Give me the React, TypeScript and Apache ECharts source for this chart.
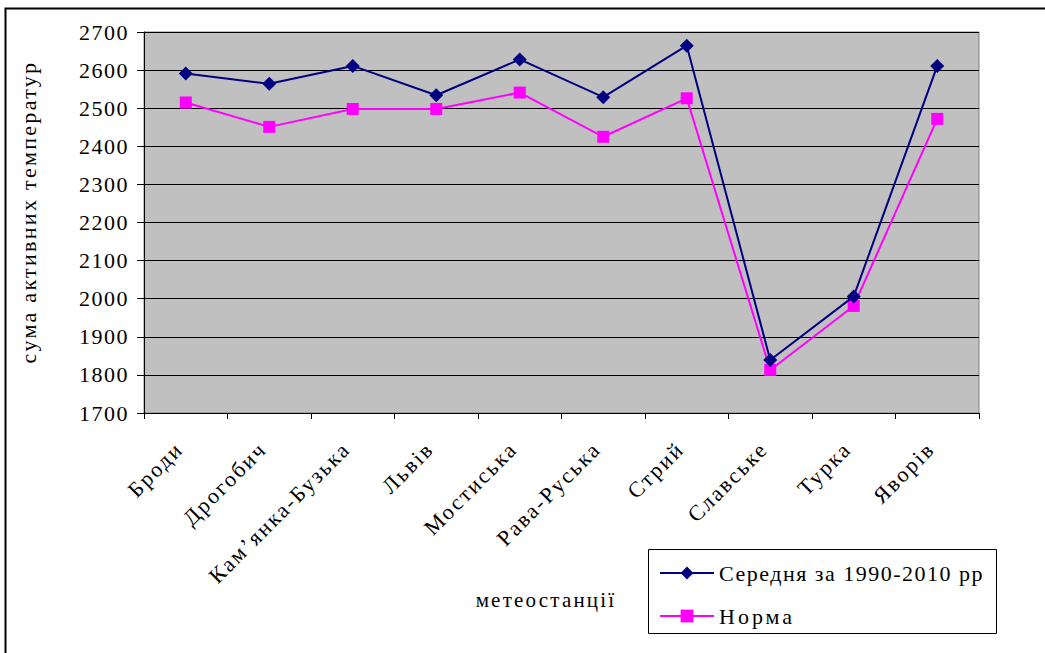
import React, { useEffect, useRef } from "react";
import * as echarts from "echarts";

const stations = ["Броди", "Дрогобич", "Кам’янка-Бузька", "Львів", "Мостиська", "Рава-Руська", "Стрий", "Славське", "Турка", "Яворів"];
const average19902010 = [2591, 2564, 2611, 2534, 2628, 2529, 2664, 1839, 2006, 2611];
const norm = [2515, 2451, 2498, 2498, 2541, 2425, 2526, 1813, 1981, 2472];
const yTicks = { min: 1700, max: 2700, interval: 100 };
const seriesNames = ["Середня за 1990-2010 рр", "Норма"];
const yAxisName = "сума активних температур";
const xAxisName = "метеостанції";

const FONT = "'Liberation Serif', 'DejaVu Serif', serif";

export default function App() {
  const ref = useRef<HTMLDivElement>(null);
  useEffect(() => {
    const chart = echarts.init(ref.current!, null, { renderer: "svg" });
    chart.setOption({
      animation: false,
      backgroundColor: "#ffffff",
      grid: {
        left: 144,
        top: 32,
        right: 66,
        bottom: 240,
        show: true,
        backgroundColor: "#c0c0c0",
        borderColor: "#808080",
        borderWidth: 1,
      },
      xAxis: {
        type: "category",
        data: stations,
        boundaryGap: true,
        axisLine: { show: true, lineStyle: { color: "#000", width: 1 } },
        axisTick: { show: true, length: 6, alignWithLabel: false, lineStyle: { color: "#000" } },
        axisLabel: {
          rotate: 45,
          interval: 0,
          margin: 26,
          padding: [0, 9, 0, 0],
          fontFamily: FONT,
          fontSize: 22,
          color: "#000",
        },
        splitLine: { show: false },
      },
      yAxis: {
        type: "value",
        min: yTicks.min,
        max: yTicks.max,
        interval: yTicks.interval,
        axisLine: { show: true, lineStyle: { color: "#000", width: 1 } },
        axisTick: { show: true, length: 7, inside: false, lineStyle: { color: "#000" } },
        axisLabel: {
          fontFamily: FONT,
          fontSize: 22,
          color: "#000",
          margin: 15,
          formatter: (v: number) => String(v),
        },
        splitLine: { show: true, lineStyle: { color: "#000", width: 1 } },
      },
      legend: {
        left: 659,
        top: 562,
        orient: "vertical",
        padding: 0,
        itemGap: 21,
        itemWidth: 54,
        itemHeight: 16,
        textStyle: { fontFamily: FONT, fontSize: 22, color: "#000" },
        data: seriesNames,
      },
      graphic: [
        {
          type: "rect",
          shape: { x: 5.5, y: 8.5, width: 1045, height: 660 },
          style: { fill: "none", stroke: "#000", lineWidth: 2 },
          silent: true,
          z: 100,
        },
        {
          type: "rect",
          shape: { x: 648.5, y: 549.5, width: 348, height: 84 },
          style: { fill: "#fff", stroke: "#000", lineWidth: 1 },
          silent: true,
          z: -1,
        },
        {
          type: "text",
          x: 28,
          y: 212,
          rotation: Math.PI / 2,
          style: {
            text: yAxisName,
            fontFamily: FONT,
            fontSize: 22,
            fill: "#000",
            align: "center",
            verticalAlign: "middle",
          },
        },
        {
          type: "text",
          x: 546,
          y: 600,
          style: {
            text: xAxisName,
            fontFamily: FONT,
            fontSize: 21,
            fill: "#000",
            align: "center",
            verticalAlign: "middle",
          },
        },
      ],
      series: [
        {
          name: seriesNames[0],
          type: "line",
          data: average19902010,
          symbol: "diamond",
          symbolSize: 14,
          lineStyle: { color: "#000080", width: 2 },
          itemStyle: { color: "#000080" },
          z: 3,
        },
        {
          name: seriesNames[1],
          type: "line",
          data: norm,
          symbol: "rect",
          symbolSize: 12,
          lineStyle: { color: "#ff00ff", width: 2 },
          itemStyle: { color: "#ff00ff" },
          z: 2,
        },
      ],
    });
    const applySpacing = () => {
      ref.current?.querySelectorAll("text").forEach((t) => {
        const s = t.textContent || "";
        let sp = 1.5;
        if (stations.includes(s)) sp = 2.2;
        else if (s === yAxisName) sp = 2.3;
        else if (s === xAxisName) sp = 2.2;
        else if (s === seriesNames[1]) sp = 3;
        t.setAttribute("letter-spacing", String(sp));
      });
    };
    applySpacing();
    chart.on("finished", applySpacing);
    return () => chart.dispose();
  }, []);
  return (
    <div
      ref={ref}
      style={{ position: "fixed", left: 0, top: 0, width: 1045, height: 653 }}
    />
  );
}
